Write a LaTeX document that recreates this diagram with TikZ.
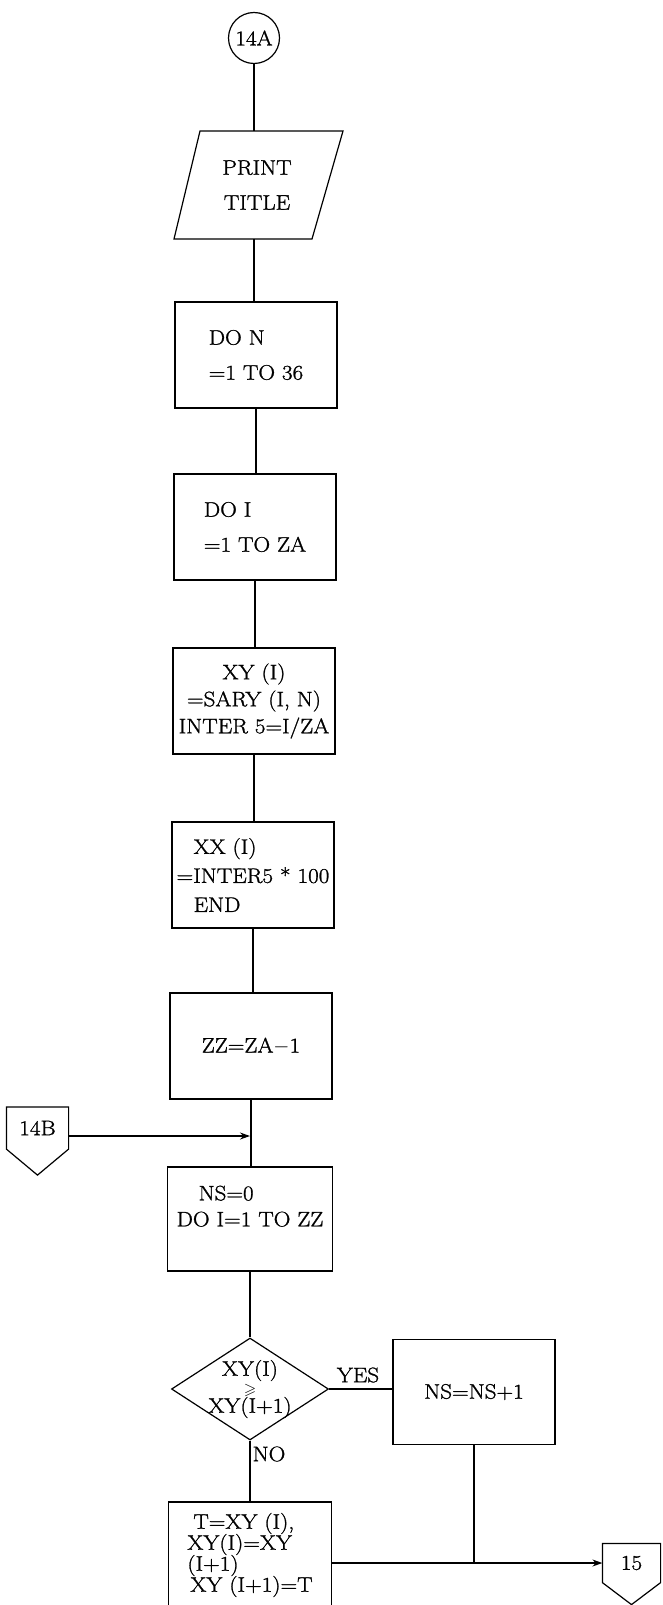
\documentclass[tikz,border=0pt]{standalone}
\usepackage{amssymb}
\usepackage{fontspec}
\setmainfont{Latin Modern Roman}[FakeStretch=1.1,FakeBold=1.2]
\usetikzlibrary{calc,shapes.geometric,arrows.meta}

\begin{document}
\begin{tikzpicture}[x=1pt,y=-1pt,line width=1.2pt,>={Stealth[length=10pt,width=7pt]},
  every node/.style={font=\fontsize{21}{27}\selectfont},
  wide/.style={font=\fontsize{21}{35}\selectfont},
  box/.style={draw,minimum width=162pt,minimum height=106pt,inner sep=0pt}]
\useasboundingbox (0,0) rectangle (662,1605);
\node[circle,draw,minimum size=51pt,inner sep=0pt] (c14A) at (254,38) {14A};
\draw (200,131) coordinate (pa) -- (343,131) -- (312,239) -- (174,239) coordinate (pd) -- cycle;
\node[wide,align=center] (print) at (257,185) {PRINT\\TITLE};
\node[box,wide,align=left] (don) at (256,355) {DO N\\=1 TO 36};
\node[box,wide,align=left] (doi) at (255,527) {DO I\\=1 TO ZA};
\node[box,align=center] (xy) at (254,701) {XY (I)\\=SARY (I, N)\\INTER 5=I/ZA};
\node[box,align=left,font=\fontsize{21}{29}\selectfont] (xx) at (253,875)
  {\hspace*{17pt}XX (I)\\=INTER5 * 100\\\hspace*{17pt}END};
\node[box] (zz) at (251,1046) {ZZ=ZA$-$1};
\node[box,minimum width=165pt,minimum height=104pt,align=left,font=\fontsize{21}{26}\selectfont] (ns0) at (250,1219)
  {\hspace*{22pt}NS=0\\DO I=1 TO ZZ\\\mbox{}};
\node[diamond,draw,minimum width=157pt,minimum height=102pt,inner sep=0pt] (dec) at (250,1389) {};
\node[align=center,font=\fontsize{21}{18.5}\selectfont] (dectxt) at (dec)
  {XY(I)\\{\fontsize{16}{15}\selectfont$\geqslant$}\\XY(I+1)};
\node[box,minimum height=105pt] (nsinc) at (474,1392) {NS=NS+1};
\node[box,minimum width=163pt,align=left,font=\fontsize{21}{21}\selectfont] (tbox) at (250,1555)
  {\hspace*{6pt}T=XY (I),\\XY(I)=XY\\(I+1)\\\hspace*{3pt}XY (I+1)=T};
\node (yes) at (358,1375) {YES};
\node (no) at (269,1454) {NO};
\node[minimum width=61pt,minimum height=41pt,inner sep=0pt] (b14) at (37.5,1128) {14B};
\draw (b14.north west) -- (b14.north east) -- (b14.south east) -- ($(b14.south)+(0,26)$) -- (b14.south west) -- cycle;
\node[minimum width=57pt,minimum height=38pt,inner sep=0pt] (p15) at (631.5,1563) {15};
\draw (p15.north west) -- (p15.north east) -- (p15.south east) -- ($(p15.south)+(0,22)$) -- (p15.south west) -- cycle;
\coordinate (j14) at (250,1136);
\draw (c14A) -- (c14A |- pa);
\draw (c14A |- pd) -- (c14A |- don.north);
\draw (don.south) -- (don.south |- doi.north);
\draw (doi.south) -- (doi.south |- xy.north);
\draw (xy.south) -- (xy.south |- xx.north);
\draw (xx.south) -- (xx.south |- zz.north);
\draw (zz.south) -- (zz.south |- ns0.north);
\draw[->] (b14.east |- j14) -- (j14);
\draw (ns0.south) -- (dec.north);
\draw (dec.east) -- (nsinc.west |- dec.east);
\draw (dec.south) -- (tbox.north);
\draw[->] (tbox.east |- p15.west) -- (p15.west);
\draw (nsinc.south) -- (nsinc.south |- p15.west);
\end{tikzpicture}
\end{document}
